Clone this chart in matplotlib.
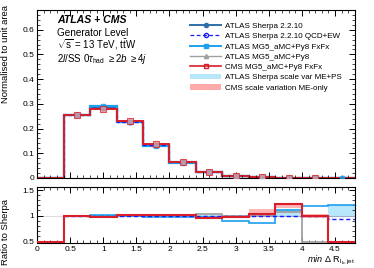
import numpy as np
import matplotlib
matplotlib.use("Agg")
import matplotlib.pyplot as plt
from matplotlib.patches import Patch
from matplotlib.lines import Line2D
from matplotlib.ticker import MultipleLocator

plt.rcParams['font.family'] = ['Liberation Sans', 'DejaVu Sans']
plt.rcParams['mathtext.fontset'] = 'custom'
plt.rcParams['mathtext.rm'] = 'Liberation Sans'
plt.rcParams['mathtext.it'] = 'Liberation Sans:italic'

edges = [0, 0.4, 0.8, 1.2, 1.6, 2.0, 2.4, 2.8, 3.2, 3.6, 4.0, 4.4, 4.8]

# main panel (normalised)
sherpa = [0, 0.255, 0.283, 0.228, 0.135, 0.064, 0.024, 0.008, 0.003, 0.0012, 0.0005, 0.0002]
cms = [0, 0.255, 0.280, 0.230, 0.138, 0.065, 0.023, 0.008, 0.003, 0.0015, 0.0005, 0.0]
mg_fxfx = [0, 0.256, 0.290, 0.228, 0.131, 0.062, 0.023, 0.007, 0.0026, 0.0012, 0.0006, 0.0003]
mg_py8 = [0, 0.255, 0.283, 0.228, 0.135, 0.064, 0.025, 0.008, 0.003, 0.0013, 0.0, 0.0]
qcdew = [0, 0.255, 0.283, 0.228, 0.135, 0.064, 0.024, 0.008, 0.003, 0.0012, 0.0005, 0.0002]

# ratio panel (to Sherpa)
r_sherpa = [np.nan, 1, 1, 1, 1, 1, 1, 1, 1, 1, 1, 1]
r_qcdew = [np.nan, 1.0, 1.0, 1.0, 1.0, 1.0, 1.0, 1.0, 1.0, 0.99, 1.0, 0.93]
r_mg_fxfx = [np.nan, 1.0, 1.02, 1.0, 0.97, 0.97, 0.97, 0.90, 0.86, 1.10, 1.18, 1.20]
r_mg_py8 = [np.nan, 1.0, 1.0, 1.0, 1.0, 1.0, 1.03, 1.0, 1.0, 1.07, 0.0, 0.0]
r_cms = [0.0, 1.0, 0.98, 1.02, 1.02, 1.02, 0.95, 0.98, 1.03, 1.22, 1.0, 0.0]
sherpa_band_lo = [np.nan, 0.99, 0.99, 0.99, 0.99, 0.99, 0.99, 0.99, 0.99, 0.97, 0.98, 0.97]
sherpa_band_hi = [np.nan, 1.01, 1.01, 1.01, 1.01, 1.01, 1.01, 1.01, 1.01, 1.12, 1.02, 1.20]
cms_band_lo = [np.nan, 0.99, 0.97, 1.01, 1.01, 1.01, 0.94, 0.97, 0.98, 1.15, 0.96, np.nan]
cms_band_hi = [np.nan, 1.01, 0.99, 1.03, 1.03, 1.03, 0.96, 0.99, 1.12, 1.25, 1.03, np.nan]

c_sherpa = '#2f6fa8'
c_qcdew = '#1a1aff'
c_fxfx = '#1ea0ee'
c_py8 = '#a0a0a0'
c_cms = '#d81e28'
c_sband = '#b8e6fb'
c_cband = '#ffaaaa'

RLO, RHI = 0.46, 1.56

fig = plt.figure(figsize=(3.74, 2.68), dpi=100)
ax = fig.add_axes([0.099, 0.336, 0.850, 0.627])
rx = fig.add_axes([0.099, 0.093, 0.850, 0.209])

e = np.array(edges)
centers = 0.5 * (e[:-1] + e[1:])

def step(a, vals, lo=None, **kw):
    v = np.array(vals, dtype=float)
    if lo is not None:
        v = np.where(np.isnan(v), v, np.maximum(v, lo))
    a.stairs(v, e, baseline=None, **kw)

# main panel
step(ax, mg_py8, color=c_py8, lw=1.2)
step(ax, sherpa, color=c_sherpa, lw=1.6)
step(ax, mg_fxfx, color=c_fxfx, lw=1.6)
step(ax, qcdew, color=c_qcdew, lw=0.9, ls=(0, (3, 2)))
step(ax, cms, color=c_cms, lw=1.4)
ax.plot(centers[1:11], np.array(sherpa)[1:11], 'o', color=c_sherpa, ms=3.2, zorder=4)
ax.plot(centers[1:], np.array(mg_fxfx)[1:], 's', color=c_fxfx, ms=3.2, zorder=4, alpha=0.8)
ax.plot(centers[1:11], np.array(cms)[1:11], 's', mfc='#e89a9a', mec=c_cms, mew=0.8, ms=4, zorder=5, alpha=0.75)

ax.set_xlim(0, 4.8)
ax.set_ylim(0, 0.68)
ax.set_ylabel('Normalised to unit area', fontsize=6.8)
ax.yaxis.set_label_coords(-0.085, 0.74)
ax.yaxis.set_minor_locator(MultipleLocator(0.02))
ax.xaxis.set_major_locator(MultipleLocator(0.5))
ax.xaxis.set_minor_locator(MultipleLocator(0.1))
ax.set_yticks([0, 0.1, 0.2, 0.3, 0.4, 0.5, 0.6])
ax.set_yticklabels(['0', '0.1', '0.2', '0.3', '0.4', '0.5', '0.6'])
ax.tick_params(axis='x', labelbottom=False)

# texts
ax.text(0.063, 0.925, 'ATLAS + CMS', transform=ax.transAxes, fontsize=7.6,
        fontweight='bold', fontstyle='italic', va='baseline')
ax.text(0.063, 0.847, 'Generator Level', transform=ax.transAxes, fontsize=7.2, va='baseline')
ax.text(0.063, 0.770, r'$\sqrt{\mathrm{s}}$ = 13 TeV, t$\bar{\mathrm{t}}$W', transform=ax.transAxes,
        fontsize=7.0, va='baseline')
ax.text(0.063, 0.693, r'2$l$/SS 0$\tau_{\mathrm{had}}$ $\geq$2$b$ $\geq$4$j$', transform=ax.transAxes,
        fontsize=7.0, va='baseline')

handles = [
    Line2D([], [], color=c_sherpa, lw=1.4, marker='o', ms=3),
    Line2D([], [], color=c_qcdew, lw=0.9, ls=(0, (3, 2)), marker='o', mfc='none', ms=3),
    Line2D([], [], color=c_fxfx, lw=1.4, marker='s', ms=3),
    Line2D([], [], color=c_py8, lw=1.0, marker='^', ms=3),
    Line2D([], [], color=c_cms, lw=1.2, marker='s', mfc='none', ms=3.5),
    Patch(facecolor=c_sband, edgecolor='none'),
    Patch(facecolor=c_cband, edgecolor='none'),
]
labels = ['ATLAS Sherpa 2.2.10', 'ATLAS Sherpa 2.2.10 QCD+EW', 'ATLAS MG5_aMC+Py8 FxFx',
          'ATLAS MG5_aMC+Py8', 'CMS MG5_aMC+Py8 FxFx', 'ATLAS Sherpa scale var ME+PS',
          'CMS scale variation ME-only']
ax.legend(handles, labels, loc='upper right', bbox_to_anchor=(0.975, 0.955), fontsize=5.8,
          frameon=False, handlelength=3.8, handletextpad=0.55, labelspacing=0.33,
          borderaxespad=0.2)

# ratio panel
rx.axhline(1.0, color='#dddddd', lw=0.8, zorder=0)
sl = np.array(sherpa_band_lo, dtype=float)
sh = np.array(sherpa_band_hi, dtype=float)
cl = np.array(cms_band_lo, dtype=float)
ch = np.array(cms_band_hi, dtype=float)
for i in range(len(centers)):
    if not np.isnan(sl[i]):
        rx.fill_between([e[i], e[i + 1]], sl[i], sh[i], color=c_sband, lw=0, zorder=1)
    if not np.isnan(cl[i]):
        rx.fill_between([e[i], e[i + 1]], cl[i], ch[i], color=c_cband, lw=0, zorder=1, alpha=0.85)
floor = RLO + 0.012
step(rx, r_sherpa, color='#9ab0c8', lw=0.8, zorder=2)
step(rx, r_mg_py8, lo=floor, color=c_py8, lw=1.3, zorder=3)
step(rx, r_mg_fxfx, lo=floor, color=c_fxfx, lw=1.2, zorder=3)
step(rx, r_qcdew, color=c_qcdew, lw=1.0, ls=(0, (3, 2)), zorder=4)
step(rx, r_cms, lo=floor, color=c_cms, lw=1.5, zorder=5)

rx.set_xlim(0, 4.8)
rx.set_ylim(RLO, RHI)
rx.set_yticks([0.5, 1.0, 1.5])
rx.set_yticklabels(['0.5', '1', '1.5'])
rx.yaxis.set_minor_locator(MultipleLocator(0.1))
rx.xaxis.set_minor_locator(MultipleLocator(0.1))
rx.set_xticks([0, 0.5, 1, 1.5, 2, 2.5, 3, 3.5, 4, 4.5])
rx.set_xticklabels(['0', '0.5', '1', '1.5', '2', '2.5', '3', '3.5', '4', '4.5'])
rx.set_ylabel('Ratio to Sherpa', fontsize=6.8)
rx.yaxis.set_label_coords(-0.085, 0.2)
rx.set_xlabel(r'$\mathit{min}$ $\Delta$ R$_{\mathrm{l_{b},jet}}$', fontsize=6.6, ha='right', va='top')
rx.xaxis.set_label_coords(1.0, -0.19)

for a in (ax, rx):
    a.tick_params(which='both', direction='in', top=True, right=True, labelsize=6, pad=2)
    a.tick_params(which='major', length=4.5, width=0.7)
    a.tick_params(which='minor', length=2.2, width=0.5)
    for s in a.spines.values():
        s.set_linewidth(0.8)

fig.savefig('out.png', dpi=100)
